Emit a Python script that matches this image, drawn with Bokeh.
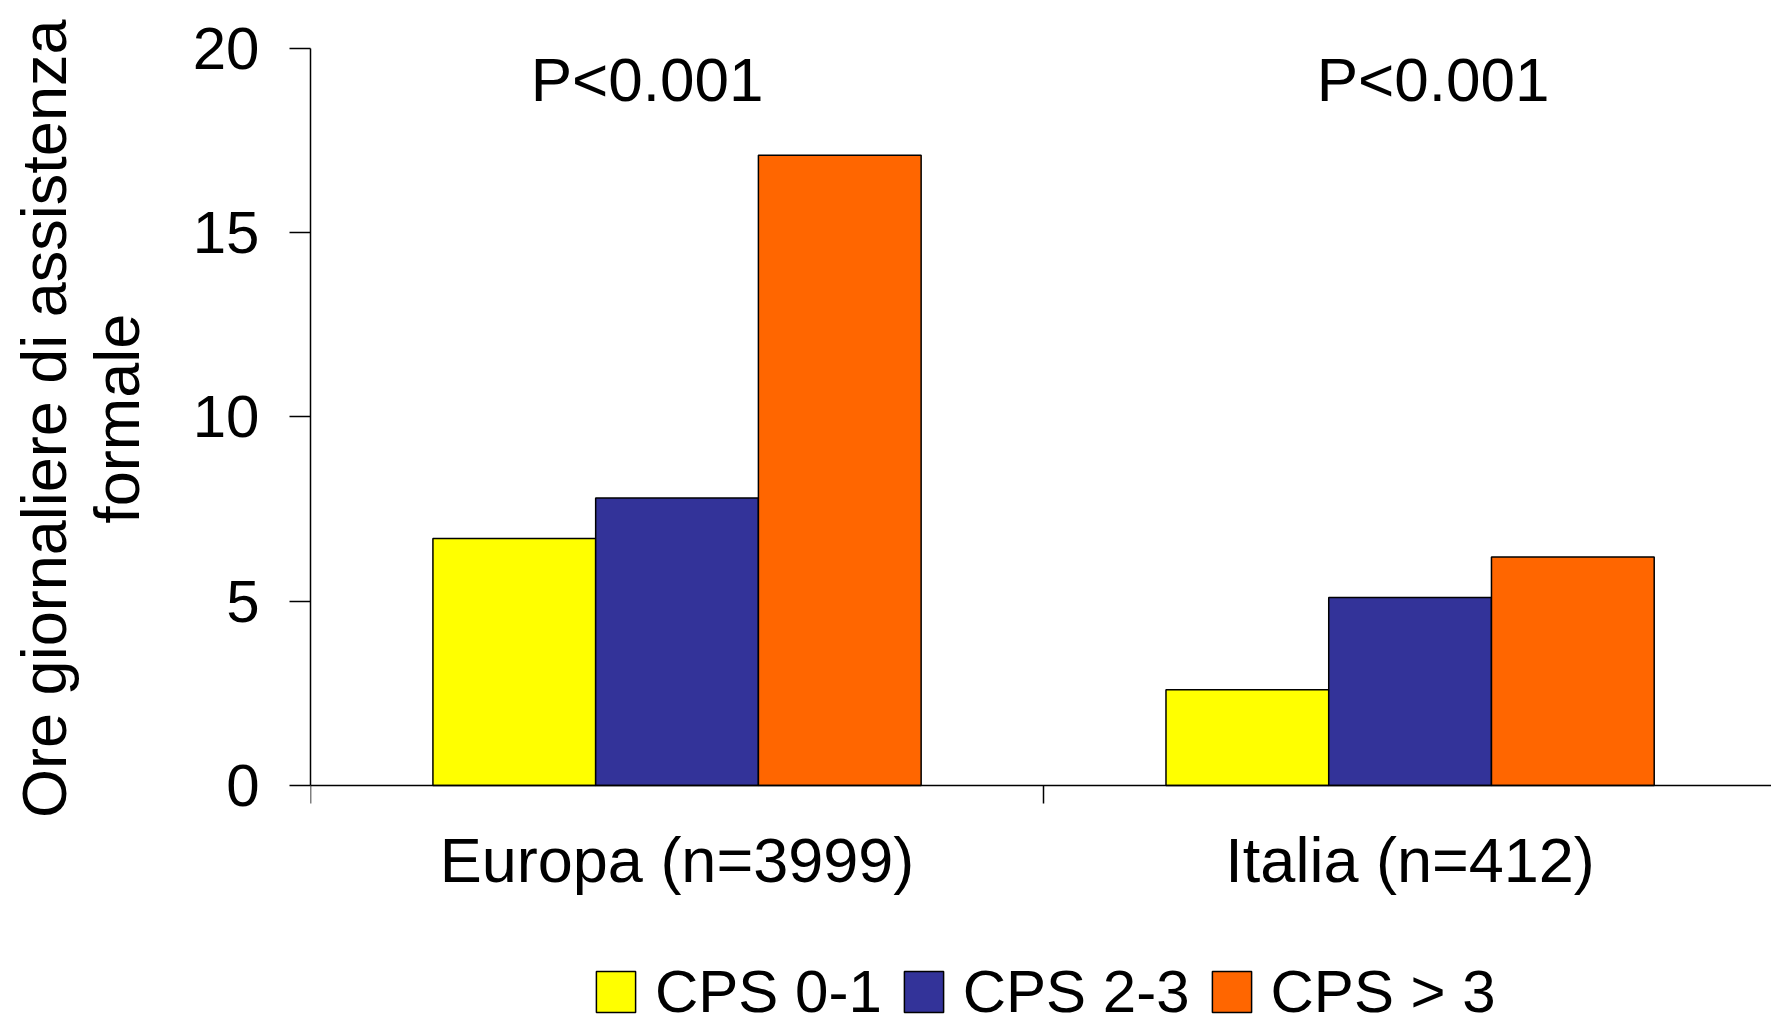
from bokeh.plotting import figure
from bokeh.models import Range1d, FixedTicker, Legend, LegendItem
from bokeh.core.properties import value
from bokeh.embed import file_html
from bokeh.resources import INLINE

# Data: daily hours of formal care by CPS group
regions = ["Europa (n=3999)", "Italia (n=412)"]
series = ["CPS 0-1", "CPS 2-3", "CPS > 3"]
cps_0_1 = [6.7, 2.6]
cps_2_3 = [7.8, 5.1]
cps_gt_3 = [17.1, 6.2]
p_labels = ["P<0.001", "P<0.001"]
y_ticks = [0, 5, 10, 15, 20]
y_label_lines = ["Ore giornaliere di assistenza", "formale"]

# Styling
FONT = "Liberation Sans"
colors = ["#FFFF00", "#333399", "#FF6600"]
bar_w = 0.222
p_label_shift = [-30, 23]
# the axis title is centred on the whole frame; leading no-break spaces
# lift it so it sits centred on the 0-20 part of the axis
lift = "\u00a0" * 13

# The frame runs down to the page bottom so the legend can sit inside it;
# the category axis is pinned at y = 0.
p = figure(
    width=1771, height=1016,
    output_backend="svg", toolbar_location=None,
    x_range=Range1d(-0.5, 1.493), y_range=Range1d(-6.27, 20),
    min_border_left=310, min_border_right=0,
    min_border_top=48, min_border_bottom=0,
)
p.outline_line_color = None
p.xgrid.visible = False
p.ygrid.visible = False

groups = list(range(len(regions)))
renderers = []
for j, vals in enumerate([cps_0_1, cps_2_3, cps_gt_3]):
    xs = [g + (j - 1) * bar_w for g in groups]
    r = p.vbar(x=xs, top=vals, width=bar_w, bottom=0,
               fill_color=colors[j], line_color="black", line_width=1.5)
    renderers.append(r)

p.text(x=groups, y=[19.15] * len(groups), text=p_labels, x_offset=p_label_shift,
       text_align="center", text_baseline="alphabetic",
       text_font=value(FONT), text_font_size="62px", text_color="black")

# x axis: category names at group centres, ticks at group boundaries
xa = p.xaxis[0]
xa.fixed_location = 0
xa.ticker = FixedTicker(ticks=groups, minor_ticks=[g - 0.5 for g in groups])
xa.major_label_overrides = {g: regions[g] for g in groups}
xa.major_tick_out = 0
xa.major_tick_in = 0
xa.minor_tick_out = 18
xa.minor_tick_in = 0
xa.minor_tick_line_width = 1.5
xa.axis_line_width = 1.5
xa.axis_line_color = "black"
xa.major_label_text_font = FONT
xa.major_label_text_font_size = "63px"
xa.major_label_text_color = "black"
xa.major_label_standoff = 22

# y axis
ya = p.yaxis[0]
ya.bounds = (0, 20)
ya.ticker = FixedTicker(ticks=y_ticks, minor_ticks=[])
ya.major_tick_out = 21
ya.major_tick_in = 0
ya.major_tick_line_width = 1.5
ya.axis_line_width = 1.5
ya.axis_line_color = "black"
ya.major_label_text_font = FONT
ya.major_label_text_font_size = "60px"
ya.major_label_text_color = "black"
ya.major_label_standoff = 30
ya.axis_label = "\n".join(lift + line for line in y_label_lines)
ya.axis_label_text_font = FONT
ya.axis_label_text_font_size = "63px"
ya.axis_label_text_font_style = "normal"
ya.axis_label_text_color = "black"
ya.axis_label_text_line_height = 1.04
ya.axis_label_standoff = 38

legend = Legend(
    items=[LegendItem(label=series[j], renderers=[renderers[j]]) for j in range(len(series))],
    orientation="horizontal",
    location=(281, -10),
    glyph_width=49, glyph_height=51,
    label_standoff=15, spacing=17,
    padding=0, margin=0,
    label_text_font=FONT, label_text_font_size="60px", label_text_color="black",
    border_line_color=None, background_fill_alpha=0,
)
p.add_layout(legend, "center")

open("out.html", "w").write(file_html(p, INLINE))
